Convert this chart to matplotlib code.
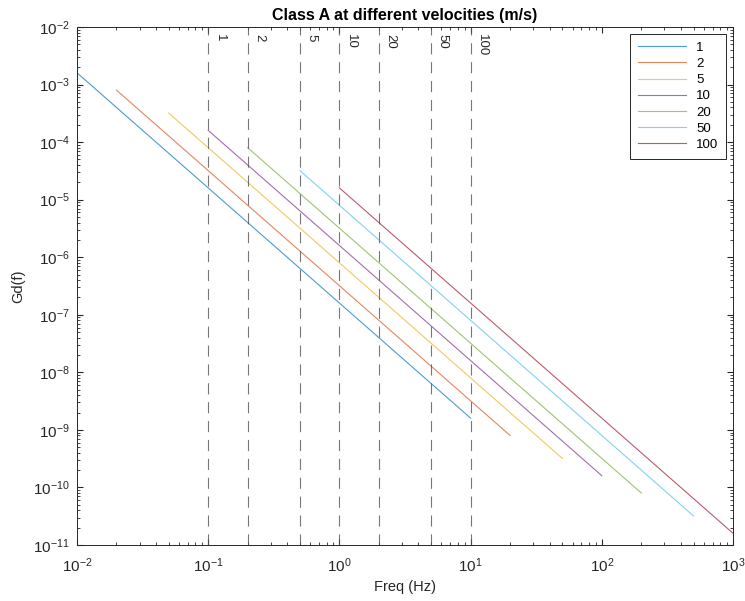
import matplotlib
matplotlib.use("Agg")
import matplotlib.pyplot as plt
from matplotlib.ticker import LogLocator, NullFormatter
import numpy as np

plt.rcParams['font.family'] = ['Liberation Sans', 'DejaVu Sans']
plt.rcParams['mathtext.default'] = 'regular'

# velocities (m/s) and the end points of each Gd(f) line
velocities = [1, 2, 5, 10, 20, 50, 100]
f_start = [0.01, 0.02, 0.05, 0.1, 0.2, 0.5, 1.0]
f_end = [10, 20, 50, 100, 200, 500, 1000]
gd_start = [1.6e-3, 8.0e-4, 3.2e-4, 1.6e-4, 8.0e-5, 3.2e-5, 1.6e-5]
gd_end = [1.6e-9, 8.0e-10, 3.2e-10, 1.6e-10, 8.0e-11, 3.2e-11, 1.6e-11]
# dashed markers for each velocity
marker_freq = [0.1, 0.2, 0.5, 1, 2, 5, 10]

colors = ['#0072BD', '#D95319', '#EDB120', '#7E2F8E', '#77AC30', '#4DBEEE', '#A2142F']
txt = '#262626'

fig = plt.figure(figsize=(7.45, 6.01), dpi=100)
ax = fig.add_axes([77 / 745, 1 - 545 / 601, 656 / 745, 518 / 601])

for v, f0, f1, g0, g1, c in zip(velocities, f_start, f_end, gd_start, gd_end, colors):
    ax.plot([f0, f1], [g0, g1], color=c, linewidth=0.8, alpha=0.7, label=str(v))

for v, fm in zip(velocities, marker_freq):
    ax.axvline(fm, color='#555555', linewidth=0.8, linestyle=(0, (10, 7)), alpha=0.8)
    ax.annotate(str(v), xy=(fm, 1), xycoords=('data', 'axes fraction'),
                xytext=(4, -5), textcoords='offset points', rotation=-90,
                ha='left', va='top', fontsize=9.5, color=txt)

ax.set_xscale('log')
ax.set_yscale('log')
ax.set_xlim(1e-2, 1e3)
ax.set_ylim(1e-11, 1e-2)
for axis in (ax.xaxis, ax.yaxis):
    axis.set_major_locator(LogLocator(base=10, numticks=20))
    axis.set_minor_locator(LogLocator(base=10, subs=np.arange(2, 10), numticks=20))
    axis.set_minor_formatter(NullFormatter())
ax.tick_params(which='both', direction='in', top=True, right=True,
               labelsize=11, colors=txt, labelcolor=txt)
ax.tick_params(which='major', length=4)
ax.tick_params(which='minor', length=2)
ax.tick_params(axis='x', pad=8)
ax.tick_params(axis='y', pad=5)
for s in ax.spines.values():
    s.set_linewidth(0.7)
    s.set_color(txt)

ax.set_xlabel('Freq (Hz)', fontsize=10.5, color=txt, labelpad=4)
ax.set_ylabel('Gd(f)', fontsize=10.5, color=txt, labelpad=6)
ax.set_title('Class A at different velocities (m/s)', fontsize=11.5, fontweight='bold',
             pad=5, color='black')

leg = ax.legend(loc='upper right', fontsize=9.5, fancybox=False, framealpha=1,
                edgecolor=txt, handlelength=3.6, borderaxespad=0.5, labelspacing=0.3,
                borderpad=0.6)
leg.get_frame().set_linewidth(0.7)

fig.savefig('out.png', dpi=100)
